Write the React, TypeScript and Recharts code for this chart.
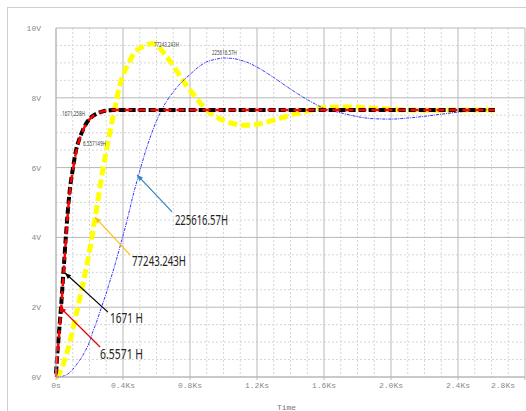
import { LineChart, Line, XAxis, YAxis, CartesianGrid, ReferenceLine, ReferenceDot } from "recharts";

// time in Ks
const time = [
  0, 0.01, 0.02, 0.03, 0.04, 0.05, 0.06, 0.08, 0.1, 0.12, 0.14, 0.16, 0.18, 0.2,
  0.22, 0.24, 0.26, 0.28, 0.3, 0.32, 0.34, 0.36, 0.38, 0.4, 0.43, 0.46, 0.5, 0.54,
  0.58, 0.62, 0.66, 0.7, 0.75, 0.8, 0.85, 0.9, 0.95, 1.0, 1.05, 1.1, 1.15, 1.2,
  1.3, 1.4, 1.5, 1.6, 1.7, 1.8, 1.9, 2.0, 2.1, 2.2, 2.3, 2.4, 2.5, 2.62,
];

// 6.5571 H (red)
const vRed = [
  0, 0.7, 1.3, 1.9, 2.6, 3.3, 4.0, 5.2, 5.9, 6.45, 6.8, 7.05, 7.25, 7.38,
  7.47, 7.53, 7.58, 7.61, 7.63, 7.64, 7.65, 7.65, 7.65, 7.65, 7.65, 7.65, 7.65, 7.65,
  7.65, 7.65, 7.65, 7.65, 7.65, 7.65, 7.65, 7.65, 7.65, 7.65, 7.65, 7.65, 7.65, 7.65,
  7.65, 7.65, 7.65, 7.65, 7.65, 7.65, 7.65, 7.65, 7.65, 7.65, 7.65, 7.65, 7.65, 7.65,
];

// 1671 H (black)
const vBlack = [
  0.1, 0.8, 1.4, 2.0, 2.7, 3.4, 4.1, 5.25, 5.95, 6.5, 6.83, 7.07, 7.26, 7.39,
  7.48, 7.54, 7.58, 7.61, 7.63, 7.64, 7.65, 7.65, 7.65, 7.65, 7.65, 7.65, 7.65, 7.65,
  7.65, 7.65, 7.65, 7.65, 7.65, 7.65, 7.65, 7.65, 7.65, 7.65, 7.65, 7.65, 7.65, 7.65,
  7.65, 7.65, 7.65, 7.65, 7.65, 7.65, 7.65, 7.65, 7.65, 7.65, 7.65, 7.65, 7.65, 7.65,
];

// 77243.243 H (yellow)
const vYellow = [
  0, 0.02, 0.1, 0.2, 0.32, 0.45, 0.6, 0.95, 1.35, 1.78, 2.22, 2.66, 3.12, 3.6,
  4.18, 4.76, 5.35, 5.95, 6.48, 6.98, 7.45, 7.9, 8.35, 8.65, 8.95, 9.24, 9.42, 9.52,
  9.55, 9.42, 9.18, 8.92, 8.55, 8.22, 7.92, 7.65, 7.47, 7.35, 7.27, 7.22, 7.21, 7.24,
  7.36, 7.5, 7.62, 7.72, 7.74, 7.73, 7.7, 7.67, 7.65, 7.64, 7.64, 7.65, 7.65, 7.65,
];

// 225616.57 H (blue)
const vBlue = [
  0, 0, 0, 0.01, 0.02, 0.04, 0.06, 0.12, 0.22, 0.34, 0.47, 0.62, 0.8, 1.0,
  1.3, 1.55, 1.83, 2.12, 2.4, 2.72, 3.02, 3.35, 3.7, 4.05, 4.6, 5.2, 5.9, 6.55,
  7.1, 7.55, 7.9, 8.17, 8.45, 8.67, 8.88, 9.03, 9.1, 9.14, 9.13, 9.08, 9.0, 8.88,
  8.58, 8.25, 7.95, 7.7, 7.57, 7.46, 7.4, 7.39, 7.42, 7.47, 7.53, 7.59, 7.64, 7.66,
];

const xTicks = [0, 0.4, 0.8, 1.2, 1.6, 2.0, 2.4, 2.8];
const yTicks = [0, 2, 4, 6, 8, 10];
const xMinor = [0.1, 0.2, 0.3, 0.5, 0.6, 0.7, 0.9, 1.0, 1.1, 1.3, 1.4, 1.5, 1.7, 1.8, 1.9, 2.1, 2.2, 2.3, 2.5, 2.6, 2.7];
const yMinor = [0.5, 1, 1.5, 2.5, 3, 3.5, 4.5, 5, 5.5, 6.5, 7, 7.5, 8.5, 9, 9.5];

const data = time.map((t, i) => ({
  t,
  red: vRed[i],
  black: vBlack[i],
  yellow: vYellow[i],
  blue: vBlue[i],
}));

const axisFont = "'Liberation Mono', 'DejaVu Sans Mono', monospace";
const labelFont = "'Noto Sans', 'Open Sans', sans-serif";

const XTick = (p: any) => {
  const v = p.payload.value;
  const last = v === 2.8;
  return (
    <text x={last ? p.x - 22 : p.x} y={p.y + 6} textAnchor="middle" fontSize={8}
      fontFamily={axisFont} fill="#8a8a8a">
      {v === 0 ? "0s" : `${v.toFixed(1)}Ks`}
    </text>
  );
};

const YTick = (p: any) => (
  <text x={p.x} y={p.y + 3} textAnchor="end" fontSize={8} fontFamily={axisFont} fill="#8a8a8a">
    {`${p.payload.value}V`}
  </text>
);

// callout line with a small arrow head at the first point
const callout = (color: string) => (p: any) => {
  const { x1, y1, x2, y2 } = p;
  const a = Math.atan2(y2 - y1, x2 - x1);
  const len = 6, w = 2.5;
  const bx = x1 + len * Math.cos(a), by = y1 + len * Math.sin(a);
  const pts = `${x1},${y1} ${bx - w * Math.sin(a)},${by + w * Math.cos(a)} ${bx + w * Math.sin(a)},${by - w * Math.cos(a)}`;
  return (
    <g>
      <line x1={x1} y1={y1} x2={x2} y2={y2} stroke={color} strokeWidth={1.2} />
      <polygon points={pts} fill={color} />
    </g>
  );
};

const tag = (text: string, size: number, len: number, color = "#222") => (p: any) => (
  <text x={p.cx} y={p.cy} dominantBaseline="central" fontSize={size} fontFamily={labelFont}
    fill={color} textLength={len} lengthAdjust="spacingAndGlyphs">
    {text}
  </text>
);

export default function App() {
  return (
    <div style={{ position: "absolute", left: 0, top: 0, width: 526, height: 411, overflow: "hidden", background: "#fff" }}>
      <div style={{ position: "absolute", left: 7, top: 7, width: 600, height: 500, border: "1px solid #cfcfcf" }} />
      <div style={{ position: "absolute", left: 0, top: 0 }}>
        <LineChart width={526} height={411} data={data} margin={{ top: 28, right: 1, bottom: 14, left: 0 }}>
          <CartesianGrid stroke="#d6d6d6" strokeDasharray="2 2" verticalValues={xMinor} horizontalValues={yMinor} />
          <CartesianGrid stroke="#b8b8b8" verticalValues={xTicks} horizontalValues={yTicks} />
          <XAxis dataKey="t" type="number" domain={[0, 2.8]} ticks={xTicks} interval={0}
            tick={<XTick />} tickSize={3} tickMargin={2} stroke="#b8b8b8" height={20}
            label={{ value: "Time", position: "bottom", offset: 7, fill: "#777", fontSize: 8, fontFamily: axisFont, dx: -4 }} />
          <YAxis type="number" domain={[0, 10]} ticks={yTicks} interval={0} width={56}
            tick={<YTick />} tickSize={0} tickMargin={15} stroke="#b8b8b8" />

          <Line dataKey="yellow" type="monotone" stroke="#ffff00" strokeWidth={5} strokeDasharray="9 4"
            dot={false} isAnimationActive={false} />
          <Line dataKey="blue" type="monotone" stroke="#3333ff" strokeWidth={1} strokeDasharray="3 1 1 1"
            dot={false} isAnimationActive={false} />
          <Line dataKey="black" type="monotone" stroke="#000" strokeWidth={4} strokeDasharray="7 3"
            dot={false} isAnimationActive={false} />
          <Line dataKey="red" type="monotone" stroke="#ff0000" strokeWidth={2.5} strokeDasharray="8 5"
            dot={false} isAnimationActive={false} />

          <ReferenceLine segment={[{ x: 0.484, y: 5.79 }, { x: 0.693, y: 4.73 }]} shape={callout("#2e86c1")} />
          <ReferenceLine segment={[{ x: 0.233, y: 4.58 }, { x: 0.442, y: 3.5 }]} shape={callout("#ffc000")} />
          <ReferenceLine segment={[{ x: 0.054, y: 2.98 }, { x: 0.31, y: 1.86 }]} shape={callout("#000")} />
          <ReferenceLine segment={[{ x: 0.024, y: 2.0 }, { x: 0.263, y: 0.86 }]} shape={callout("#e00000")} />

          <ReferenceDot x={0.71} y={4.54} r={0} shape={tag("225616.57H", 15, 53)} />
          <ReferenceDot x={0.454} y={3.34} r={0} shape={tag("77243.243H", 15, 54)} />
          <ReferenceDot x={0.322} y={1.73} r={0} shape={tag("1671 H", 15, 33)} />
          <ReferenceDot x={0.263} y={0.69} r={0} shape={tag("6.5571 H", 15, 43)} />

          <ReferenceDot x={0.585} y={9.54} r={0} shape={tag("77243.243H", 7, 25, "#444")} />
          <ReferenceDot x={0.931} y={9.31} r={0} shape={tag("225616.57H", 7, 25, "#444")} />
          <ReferenceDot x={0.036} y={7.56} r={0} shape={tag("1671.258H", 7, 23, "#444")} />
          <ReferenceDot x={0.161} y={6.7} r={0} shape={tag("6.557149H", 7, 23, "#444")} />
        </LineChart>
      </div>
    </div>
  );
}
